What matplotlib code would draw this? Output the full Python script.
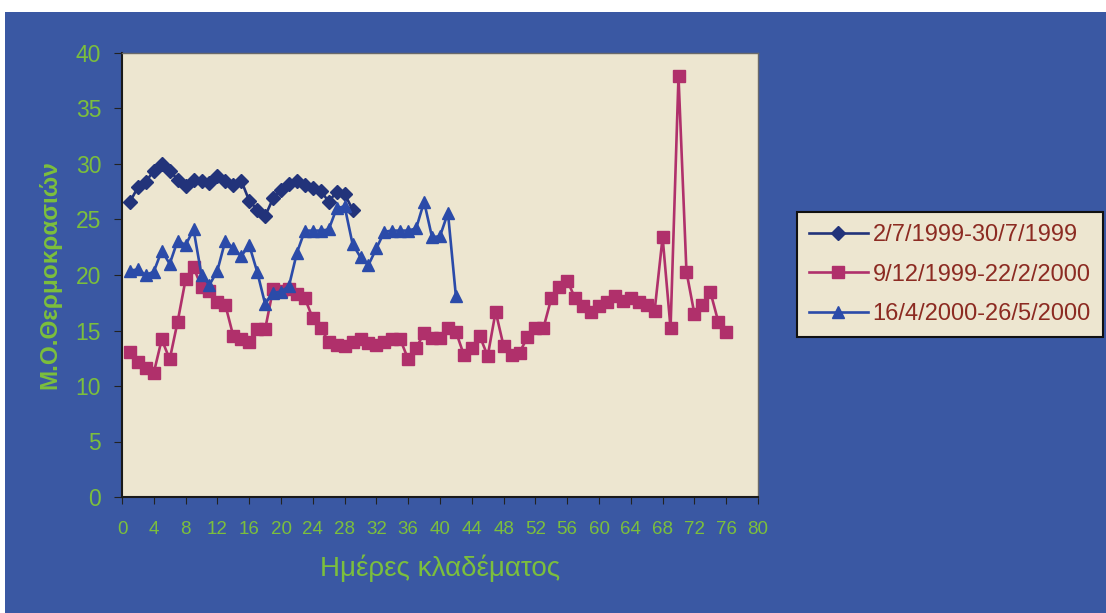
import matplotlib.pyplot as plt
from matplotlib.patches import Rectangle

plt.rcParams['font.family'] = ['Liberation Sans', 'DejaVu Sans']

# 2/7/1999-30/7/1999
days1 = list(range(1, 30))
temp1 = [26.6, 27.9, 28.4, 29.4, 30.0, 29.4, 28.6, 28.0, 28.6, 28.5,
         28.3, 28.9, 28.5, 28.1, 28.5, 26.7, 25.9, 25.3, 26.9, 27.7,
         28.2, 28.5, 28.1, 27.8, 27.6, 26.6, 27.5, 27.3, 25.9]

# 9/12/1999-22/2/2000
days2 = list(range(1, 77))
temp2 = [13.1, 12.2, 11.6, 11.2, 14.2, 12.4, 15.8, 19.6, 20.7, 18.9,
         18.6, 17.6, 17.3, 14.5, 14.2, 14.0, 15.1, 15.1, 18.7, 18.6,
         18.7, 18.3, 17.9, 16.1, 15.2, 14.0, 13.7, 13.6, 14.0, 14.2,
         13.9, 13.7, 14.0, 14.2, 14.2, 12.4, 13.4, 14.8, 14.3, 14.3,
         15.2, 14.9, 12.8, 13.4, 14.5, 12.7, 16.7, 13.6, 12.8, 13.0,
         14.4, 15.2, 15.2, 17.9, 18.9, 19.5, 17.9, 17.2, 16.7, 17.2,
         17.6, 18.1, 17.7, 17.9, 17.6, 17.3, 16.8, 23.4, 15.2, 37.9,
         20.3, 16.5, 17.3, 18.5, 15.8, 14.9]

# 16/4/2000-26/5/2000
days3 = list(range(1, 43))
temp3 = [20.4, 20.5, 20.0, 20.3, 22.2, 21.0, 23.1, 22.7, 24.1, 20.0,
         19.1, 20.4, 23.1, 22.4, 21.7, 22.7, 20.3, 17.4, 18.4, 18.5,
         19.0, 22.0, 24.0, 24.0, 24.0, 24.1, 26.0, 26.2, 22.8, 21.6,
         20.9, 22.4, 23.9, 24.0, 24.0, 24.0, 24.2, 26.6, 23.4, 23.5,
         25.6, 18.1]

labels = ['2/7/1999-30/7/1999', '9/12/1999-22/2/2000', '16/4/2000-26/5/2000']

blue_bg = '#3a58a3'
paper = '#ede6d0'
green = '#7cbf3c'
W, H = 1106, 613

fig = plt.figure(figsize=(W / 100, H / 100), dpi=100)
fig.patch.set_facecolor('white')
fig.add_artist(Rectangle((5 / W, 0), 1, 1 - 12 / H, transform=fig.transFigure,
                         facecolor=blue_bg, edgecolor='none', zorder=0))

ax = fig.add_axes([122 / W, 1 - 497 / H, (758 - 122) / W, (497 - 53) / H])
ax.set_facecolor(paper)

ax.plot(days1, temp1, color='#22337a', marker='D', markersize=7.5, lw=1.9, label=labels[0])
ax.plot(days2, temp2, color='#b0306b', marker='s', markersize=8, lw=1.9, label=labels[1])
ax.plot(days3, temp3, color='#2b4ba9', marker='^', markersize=9, lw=1.9, label=labels[2])

ax.set_xlim(0, 80)
ax.set_ylim(0, 40)
ax.set_xticks(range(0, 81, 4))
ax.set_yticks(range(0, 41, 5))
ax.tick_params(axis='x', direction='out', length=5, color='#222222', labelcolor=green,
               labelsize=13.5, pad=12)
ax.tick_params(axis='y', direction='out', length=6, color='#222222', labelcolor=green,
               labelsize=16.5, pad=9)

for side in ['left', 'bottom']:
    ax.spines[side].set_color('#1a1a1a')
    ax.spines[side].set_linewidth(1.5)
for side in ['top', 'right']:
    ax.spines[side].set_color('#6a6a6a')
    ax.spines[side].set_linewidth(1.0)

ax.set_xlabel('Ημέρες κλαδέματος', color=green, fontsize=20, labelpad=12)
ax.set_ylabel('Μ.Ο.Θερμοκρασιών', color=green, fontsize=17.5, fontweight='bold', labelpad=10)

leg = ax.legend(loc='upper left', bbox_to_anchor=(797 / W, 1 - 212 / H),
                bbox_transform=fig.transFigure, fontsize=17, frameon=True,
                fancybox=False, framealpha=1, handlelength=2.5, handletextpad=0.2,
                borderpad=0.5, labelspacing=0.75, borderaxespad=0)
leg.get_frame().set_facecolor(paper)
leg.get_frame().set_edgecolor('#111111')
leg.get_frame().set_linewidth(1.5)
for t in leg.get_texts():
    t.set_color('#8c2b22')

fig.savefig('out.png', dpi=100)
